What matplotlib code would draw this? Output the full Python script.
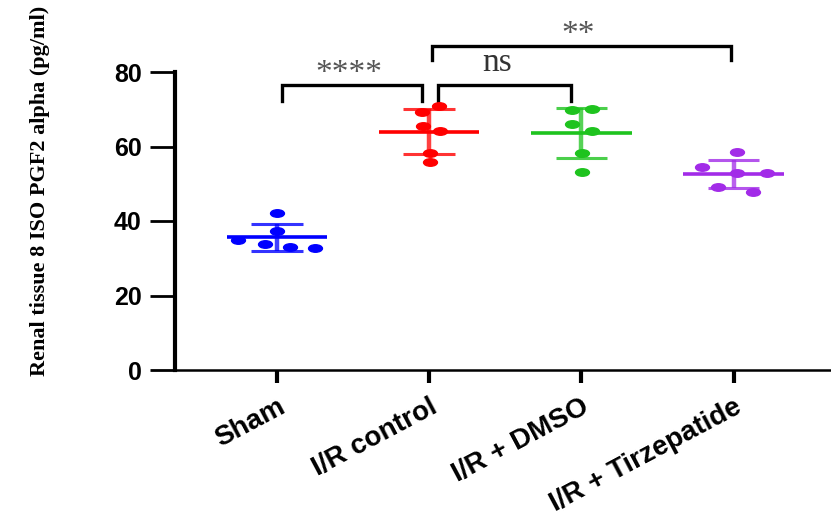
import numpy as np
import matplotlib
matplotlib.use('Agg')
import matplotlib.pyplot as plt
from matplotlib.path import Path
from matplotlib.transforms import Affine2D

groups = ['Sham', 'I/R control', 'I/R + DMSO', 'I/R + Tirzepatide']
colors = ['#0000FF', '#FF0000', '#1EC31E', '#A22BE8']

sham = [42.2, 37.3, 34.9, 33.8, 33.0, 32.8]
ir_control = [70.9, 69.3, 65.5, 64.2, 58.3, 55.8]
ir_dmso = [69.8, 70.1, 66.0, 64.2, 58.3, 53.2]
ir_tirz = [58.5, 54.5, 52.9, 52.9, 49.1, 47.8]
values = [sham, ir_control, ir_dmso, ir_tirz]

# horizontal scatter of the dots inside each group
jitter = [
    [0.0, 0.0, -0.256, -0.079, 0.085, 0.25],
    [0.066, -0.046, -0.04, 0.072, 0.007, 0.007],
    [-0.06, 0.072, -0.06, 0.072, 0.007, 0.007],
    [0.02, -0.21, 0.02, 0.22, -0.105, 0.125],
]

# significance brackets: (x start, x end, height, leg drop, label)
comparisons = [
    (0.03, 0.95, 76.5, 4.3, '****'),
    (1.06, 1.93, 76.5, 4.3, 'ns'),
    (1.02, 2.98, 87.0, 3.8, '**'),
]

fig = plt.figure(figsize=(8.31, 5.24), dpi=100)
ax = fig.add_axes([175 / 831, 1 - 370 / 524, 1 - 175 / 831, (370 - 72) / 524])

ell = Path.unit_circle().transformed(Affine2D().scale(1.85, 1.0))

for i, (vals, jit, c) in enumerate(zip(values, jitter, colors)):
    vals = np.array(vals)
    m = vals.mean()
    sd = vals.std(ddof=1)
    ax.plot([i - 0.33, i + 0.33], [m, m], color=c, lw=2.6, zorder=2,
            solid_capstyle='butt')
    ax.plot([i, i], [m - sd, m + sd], color=c, lw=3.2, alpha=0.75, zorder=2,
            solid_capstyle='butt')
    for y in (m - sd, m + sd):
        ax.plot([i - 0.17, i + 0.17], [y, y], color=c, lw=2.2, alpha=0.8,
                zorder=2, solid_capstyle='butt')
    ax.plot(i + np.array(jit), vals, linestyle='none', marker=ell,
            markersize=10, color=c, zorder=3)

for x0, x1, h, drop, lab in comparisons:
    ax.plot([x0, x0, x1, x1], [h - drop, h, h, h - drop], color='black',
            lw=2.4, clip_on=False, solid_joinstyle='miter')
    if lab == 'ns':
        ax.text((x0 + x1) / 2 - 0.05, h + 3.8, lab, ha='center', va='baseline',
                fontsize=24, family='Liberation Serif', color='#333333',
                clip_on=False)
    else:
        ax.text((x0 + x1) / 2 - 0.02, h + 0.8, lab, ha='center', va='baseline',
                fontsize=24, family='Liberation Serif', color='#555555',
                clip_on=False)

ax.set_xlim(-0.67, 3.64)
ax.set_ylim(0, 80)
ax.set_yticks([0, 20, 40, 60, 80])
ax.set_xticks(range(len(groups)))
ax.set_xticklabels(groups, rotation=28, ha='right', rotation_mode='anchor',
                   fontsize=20, fontweight='bold', family='Liberation Sans')
for lab in ax.get_yticklabels():
    lab.set_fontsize(18)
    lab.set_fontweight('bold')
    lab.set_family('Liberation Sans')

ax.spines['top'].set_visible(False)
ax.spines['right'].set_visible(False)
ax.spines['left'].set_linewidth(3)
ax.spines['bottom'].set_linewidth(1.8)
ax.tick_params(axis='y', length=18, width=2, pad=6)
ax.tick_params(axis='x', length=9.5, width=3, pad=8)

ax.set_ylabel('Renal tissue 8 ISO PGF2 alpha (pg/ml)', fontsize=16,
              fontweight='bold', family='Liberation Serif')
ax.yaxis.set_label_coords(-0.19, 0.60)

fig.savefig('out.png', dpi=100)
